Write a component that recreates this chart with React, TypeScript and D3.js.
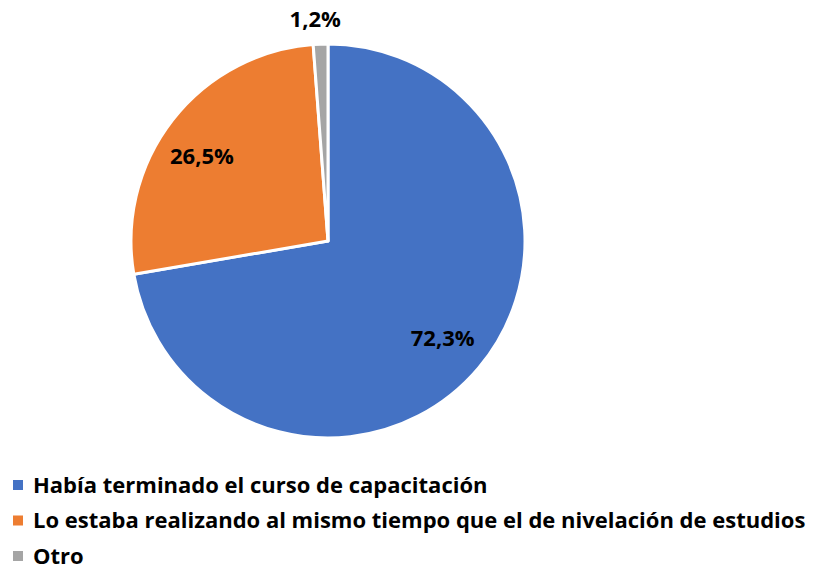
import { useEffect, useRef } from "react";
import * as d3 from "d3";

const categories = [
  "Había terminado el curso de capacitación",
  "Lo estaba realizando al mismo tiempo que el de nivelación de estudios",
  "Otro",
];
const values = [72.3, 26.5, 1.2];
const labels = ["72,3%", "26,5%", "1,2%"];
const colors = ["#4472C4", "#ED7D31", "#A5A5A5"];

export default function App() {
  const svgRef = useRef<SVGSVGElement>(null);

  useEffect(() => {
    if (!svgRef.current) return;
    const width = 814;
    const height = 571;
    const cx = 328;
    const cy = 241;
    const radius = 197;
    const font = "'Open Sans', 'Noto Sans', sans-serif";

    const svg = d3.select(svgRef.current);
    svg.selectAll("*").remove();
    svg.attr("width", width).attr("height", height);

    const pie = d3
      .pie<number>()
      .sort(null)
      .value((d) => d);
    const arcs = pie(values);
    const arc = d3.arc<d3.PieArcDatum<number>>().innerRadius(0).outerRadius(radius);

    const g = svg.append("g").attr("transform", `translate(${cx},${cy})`);

    g.selectAll("path")
      .data(arcs)
      .enter()
      .append("path")
      .attr("d", arc)
      .style("fill", (_, i) => colors[i])
      .style("stroke", "#fff")
      .style("stroke-width", "3px")
      .style("stroke-linejoin", "round");

    // Label radii: inside for big slices, outside for the small one
    const labelRadius = [150, 152, 222];
    const angleShift = [0, -0.07, -0.02];
    arcs.forEach((a, i) => {
      const mid = (a.startAngle + a.endAngle) / 2 + angleShift[i];
      const r = labelRadius[i];
      g.append("text")
        .attr("x", Math.sin(mid) * r)
        .attr("y", -Math.cos(mid) * r)
        .attr("dy", "0.36em")
        .attr("text-anchor", "middle")
        .style("font-family", font)
        .style("font-weight", "700")
        .style("font-size", "22px")
        .style("fill", "#000")
        .text(labels[i]);
    });

    // Legend
    const legendY = d3.scalePoint<string>().domain(categories).range([485, 556]);
    const legend = svg.append("g");
    categories.forEach((c, i) => {
      const y = legendY(c) ?? 0;
      legend
        .append("rect")
        .attr("x", 13)
        .attr("y", y - 5)
        .attr("width", 10)
        .attr("height", 10)
        .style("fill", colors[i]);
      legend
        .append("text")
        .attr("x", 33)
        .attr("y", y)
        .attr("dy", "0.36em")
        .style("font-family", font)
        .style("font-weight", "700")
        .style("font-size", "22px")
        .style("fill", "#000")
        .text(c);
    });
  }, []);

  return (
    <div style={{ position: "absolute", left: 0, top: 0, background: "#fff" }}>
      <svg ref={svgRef} style={{ display: "block" }} />
    </div>
  );
}
